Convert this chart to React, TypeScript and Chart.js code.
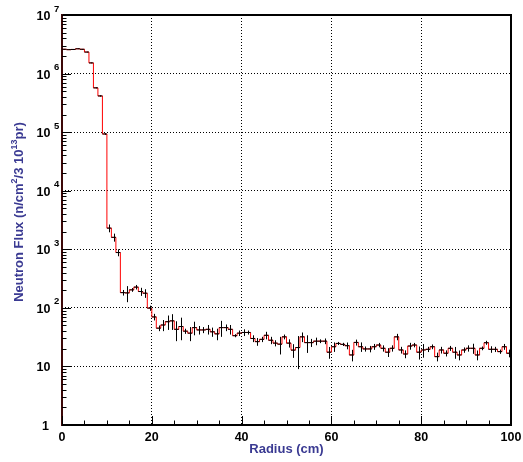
import React, { useEffect, useRef } from "react";
import { Chart, registerables } from "chart.js";

Chart.register(...registerables);

// Histogram: 1 cm bins from 0 to 100 cm
const binWidth = 1;
const fluxValues: number[] = [
  2.6e6, 2.56e6, 2.58e6, 2.65e6, 2.6e6, 2.33e6, 1.52e6, 5.7e5, 4.15e5, 9.3e4,
  2300, 1600, 880, 182, 180, 203, 226, 190, 178, 99,
  70, 45, 51, 58, 60, 43, 48, 40, 37, 46,
  42, 42, 43, 39, 36, 46, 46, 43, 33.5, 37,
  38, 38, 30, 26.5, 29, 34, 28, 25, 24, 32,
  25, 19, 21, 32, 25.5, 25.5, 27, 27, 27, 17.5,
  21.7, 24.7, 23.8, 22.6, 15.7, 25.7, 21.7, 19.9, 19.9, 21.7,
  23.2, 20.4, 17.5, 20.4, 32, 19.1, 16.3, 22.3, 23.2, 17.5,
  19.1, 19.6, 21.7, 14.7, 19.1, 16.8, 20.4, 17.5, 15.7, 19.1,
  20.4, 20.4, 15.7, 20.4, 25.4, 19.6, 19.6, 17.9, 21.7, 16.8,
];
const fluxErrors: number[] = [
  3e4, 3e4, 3e4, 3e4, 3e4, 3e4, 2e4, 1e4, 1e4, 3e3,
  350, 250, 120, 20, 55, 15, 20, 30, 30, 10,
  9, 5, 11, 16, 18, 16, 20, 4, 10, 12,
  7, 5, 8, 7, 8, 14, 6, 8, 2, 4,
  5, 3, 4, 4, 3, 5, 4, 3, 8, 3,
  4, 5, 12, 6, 8.5, 4, 4, 2, 3, 4,
  4, 1.5, 1.5, 3, 3.5, 3, 4, 2, 2.5, 2.5,
  2, 2.5, 3, 2.5, 4, 2.5, 2.5, 3, 2, 4.4,
  5, 2, 2, 2.5, 2.5, 2, 2, 4, 3, 2,
  2.5, 4, 3, 1.5, 2, 2.5, 2, 1.5, 2.5, 2.5,
];

const xMin = 0;
const xMax = 100;
const xLabelValues = [0, 20, 40, 60, 80, 100];
const xMinorStep = 5;
const yMin = 1;
const yMax = 1e7;
const yDecadeExponents = [0, 1, 2, 3, 4, 5, 6, 7];

const xTitle = "Radius (cm)";
// y title pieces: [text, isSuperscript]
const yTitleParts: [string, boolean][] = [
  ["Neutron Flux (n/cm", false],
  ["2", true],
  ["/3 10", false],
  ["13", true],
  ["pr)", false],
];

const FONT = '"Liberation Sans", Arial, Helvetica, sans-serif';
const TITLE_COLOR = "#3a3a92";

const rootPlugin = {
  id: "rootStyle",
  afterDatasetsDraw(chart: any) {
    const { ctx, chartArea: a } = chart;
    const x = chart.scales.x;
    const y = chart.scales.y;
    ctx.save();
    // frame (left edge darkened by the red histogram edge underneath)
    ctx.lineWidth = 2;
    ctx.strokeStyle = "#000";
    ctx.beginPath();
    ctx.moveTo(a.left, a.top);
    ctx.lineTo(a.right, a.top);
    ctx.lineTo(a.right, a.bottom);
    ctx.lineTo(a.left, a.bottom);
    ctx.stroke();
    ctx.strokeStyle = "#3c0808";
    ctx.beginPath();
    ctx.moveTo(a.left, a.top - 1);
    ctx.lineTo(a.left, a.bottom + 1);
    ctx.stroke();
    // error bars
    ctx.strokeStyle = "#000";
    ctx.lineWidth = 1;
    fluxValues.forEach((v, i) => {
      const lo = xMin + i * binWidth;
      const hi = lo + binWidth;
      const px0 = x.getPixelForValue(lo);
      const px1 = x.getPixelForValue(hi);
      const pc = Math.round(x.getPixelForValue(lo + binWidth / 2)) + 0.5;
      const py = y.getPixelForValue(v);
      const e = fluxErrors[i];
      const pyHi = y.getPixelForValue(v + e);
      const pyLo = y.getPixelForValue(Math.max(v - e, yMin));
      ctx.beginPath();
      ctx.moveTo(px0, py);
      ctx.lineTo(px1, py);
      ctx.moveTo(pc, pyHi);
      ctx.lineTo(pc, pyLo);
      ctx.stroke();
    });
    // y ticks (inside the frame)
    ctx.beginPath();
    yDecadeExponents.forEach((p) => {
      const py = Math.round(y.getPixelForValue(Math.pow(10, p))) + 0.5;
      ctx.moveTo(a.left, py);
      ctx.lineTo(a.left + 9, py);
      if (p < yDecadeExponents[yDecadeExponents.length - 1]) {
        for (let m = 2; m <= 9; m++) {
          const pm = Math.round(y.getPixelForValue(m * Math.pow(10, p))) + 0.5;
          ctx.moveTo(a.left, pm);
          ctx.lineTo(a.left + 4.5, pm);
        }
      }
    });
    // x ticks
    for (let v = xMin; v <= xMax; v += xMinorStep) {
      const px = Math.round(x.getPixelForValue(v)) + 0.5;
      const len = xLabelValues.includes(v) ? 9 : 4.5;
      ctx.moveTo(px, a.bottom);
      ctx.lineTo(px, a.bottom - len);
    }
    ctx.stroke();
    ctx.restore();
  },
  afterDraw(chart: any) {
    const { ctx, chartArea: a } = chart;
    const x = chart.scales.x;
    const y = chart.scales.y;
    ctx.save();
    ctx.fillStyle = "#000";
    // x labels
    ctx.font = `bold 12.5px ${FONT}`;
    ctx.textAlign = "center";
    ctx.textBaseline = "alphabetic";
    xLabelValues.forEach((v) => {
      ctx.fillText(String(v), x.getPixelForValue(v), a.bottom + 15.5);
    });
    // y labels
    yDecadeExponents.forEach((p) => {
      const py = y.getPixelForValue(Math.pow(10, p));
      ctx.font = `bold 12.5px ${FONT}`;
      ctx.textAlign = "right";
      ctx.textBaseline = "middle";
      if (p === 0) {
        ctx.fillText("1", a.left - 13, py + 1.5);
      } else {
        ctx.fillText("10", a.left - 11.5, py + 1.5);
        if (p > 1) {
          ctx.font = `bold 9.5px ${FONT}`;
          ctx.textAlign = "left";
          ctx.fillText(String(p), a.left - 8, py - 6);
        }
      }
    });
    // x title
    ctx.fillStyle = TITLE_COLOR;
    ctx.font = `bold 13px ${FONT}`;
    ctx.textAlign = "center";
    ctx.textBaseline = "alphabetic";
    ctx.fillText(xTitle, (a.left + a.right) / 2, a.bottom + 28);
    // y title (rotated, with superscripts)
    const normal = `bold 13px ${FONT}`;
    const sup = `bold 9px ${FONT}`;
    let total = 0;
    yTitleParts.forEach(([t, s]) => {
      ctx.font = s ? sup : normal;
      total += ctx.measureText(t).width;
    });
    ctx.translate(23, 212);
    ctx.rotate(-Math.PI / 2);
    ctx.textAlign = "left";
    let cx = -total / 2;
    yTitleParts.forEach(([t, s]) => {
      ctx.font = s ? sup : normal;
      ctx.fillText(t, cx, s ? -6 : 0);
      cx += ctx.measureText(t).width;
    });
    ctx.restore();
  },
};

export default function App() {
  const ref = useRef<HTMLCanvasElement | null>(null);
  useEffect(() => {
    document.body.style.margin = "0";
    const canvas = ref.current;
    if (!canvas) return;
    const stepPoints: { x: number; y: number }[] = [{ x: xMin, y: yMin }];
    fluxValues.forEach((v, i) => stepPoints.push({ x: xMin + i * binWidth, y: v }));
    stepPoints.push({ x: xMin + fluxValues.length * binWidth, y: fluxValues[fluxValues.length - 1] });

    const isDecade = (v: number) => {
      const l = Math.log10(v);
      return Math.abs(l - Math.round(l)) < 1e-6;
    };

    const chart = new Chart(canvas, {
      type: "line",
      data: {
        datasets: [
          {
            data: stepPoints,
            stepped: "before",
            borderColor: "#ff0000",
            borderWidth: 1,
            pointRadius: 0,
            fill: false,
            tension: 0,
          },
        ],
      },
      options: {
        animation: false,
        responsive: false,
        devicePixelRatio: 1,
        events: [],
        layout: { padding: { left: 62, right: 12, top: 15, bottom: 37 } },
        plugins: { legend: { display: false }, tooltip: { enabled: false }, title: { display: false } },
        scales: {
          x: {
            type: "linear",
            min: xMin,
            max: xMax,
            ticks: { display: false, stepSize: 20 },
            grid: {
              drawTicks: false,
              lineWidth: 1,
              color: (c: any) =>
                c.tick && c.tick.value > xMin && c.tick.value < xMax ? "#000" : "transparent",
            },
            border: { display: false, dash: [1, 2] },
          },
          y: {
            type: "logarithmic",
            min: yMin,
            max: yMax,
            ticks: { display: false },
            grid: {
              drawTicks: false,
              lineWidth: 1,
              color: (c: any) =>
                c.tick && isDecade(c.tick.value) && c.tick.value > yMin && c.tick.value < yMax
                  ? "#000"
                  : "transparent",
            },
            border: { display: false, dash: [1, 2] },
          },
        },
      },
      plugins: [rootPlugin],
    } as any);
    return () => chart.destroy();
  }, []);
  return <canvas ref={ref} width={523} height={462} style={{ display: "block" }} />;
}
